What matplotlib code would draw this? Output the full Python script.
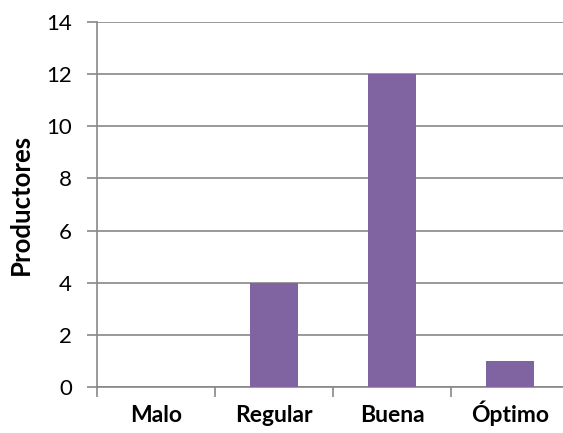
import matplotlib
matplotlib.use("Agg")
import matplotlib.pyplot as plt
import numpy as np

categories = ["Malo", "Regular", "Buena", "Óptimo"]
values = [0, 4, 12, 1]
yticks = [0, 2, 4, 6, 8, 10, 12, 14]

plt.rcParams['font.family'] = ['Lato', 'DejaVu Sans']

fig = plt.figure(figsize=(5.63, 4.33), dpi=100)
W, H = 563, 433
left, right, top, bottom = 97, 569, 22, 387
ax = fig.add_axes([left / W, 1 - bottom / H, (right - left) / W, (bottom - top) / H])

x = np.arange(len(categories))
ax.bar(x, values, width=0.4, color="#8064A2", zorder=3)

ax.set_xlim(-0.5, len(categories) - 0.5)
ax.set_ylim(0, 14)
ax.set_yticks(yticks)
ax.set_yticklabels([str(v) for v in yticks], fontsize=16)
ax.yaxis.grid(True, color="#888888", linewidth=1.2, zorder=0)
ax.tick_params(axis="y", length=7, width=1.2, color="#888888", pad=11)

ax.set_xticks(np.arange(len(categories) + 1) - 0.5)
ax.set_xticklabels([])
ax.set_xticks(x, minor=True)
ax.set_xticklabels(categories, minor=True, fontsize=16.5, fontweight="bold",
                   va="baseline")
ax.tick_params(axis="x", which="major", length=7, width=1.2, color="#888888")
ax.tick_params(axis="x", which="minor", length=0, pad=25)

for s in ["top", "right"]:
    ax.spines[s].set_visible(False)
for s in ["left", "bottom"]:
    ax.spines[s].set_color("#888888")
    ax.spines[s].set_linewidth(1.2)

ax.set_ylabel("Productores", fontsize=18.5, fontweight="bold")
ax.yaxis.set_label_coords(-64 / (right - left), 0.5)

fig.savefig("out.png", dpi=100, facecolor="white")
